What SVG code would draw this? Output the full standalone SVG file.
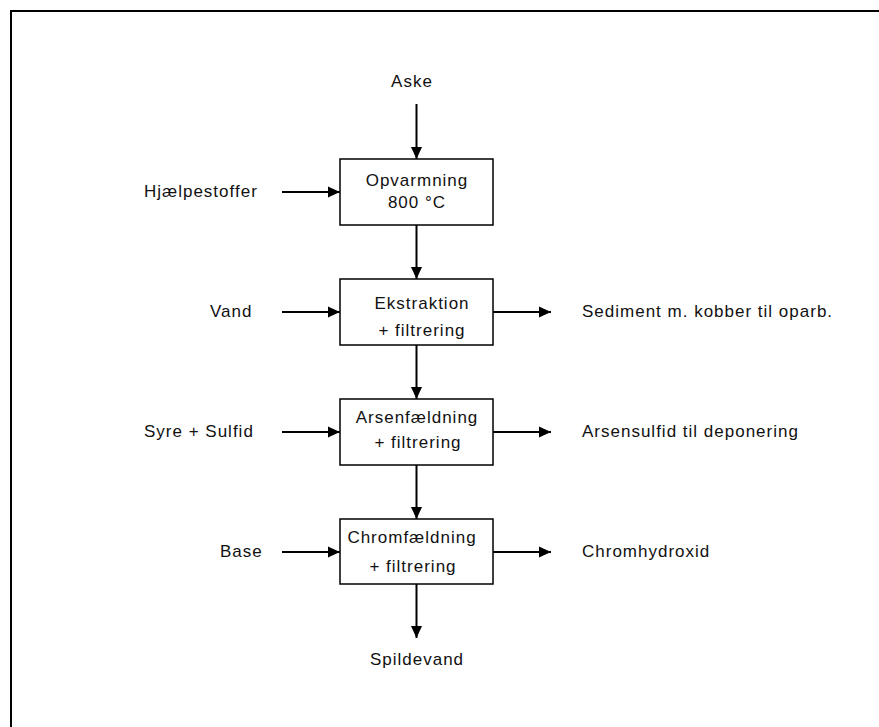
<svg xmlns="http://www.w3.org/2000/svg" width="879" height="727" viewBox="0 0 879 727">
<defs>
<marker id="ah" markerWidth="12" markerHeight="12" refX="12" refY="6" orient="auto" markerUnits="userSpaceOnUse">
<path d="M0,0.5 L12,6 L0,11.5 Z" fill="#000"/>
</marker>
<style>
text{font-family:"Liberation Sans",Arial,sans-serif;font-size:17px;letter-spacing:1px;fill:#111}
.c{text-anchor:middle}
.box{fill:#fff;stroke:#000;stroke-width:1.5}
.ln{stroke:#000;stroke-width:2;fill:none;marker-end:url(#ah)}
</style>
</defs>
<rect x="0" y="0" width="879" height="727" fill="#fff"/>
<path d="M11,727 V11 H879" fill="none" stroke="#000" stroke-width="2"/>
<g id="connectors">
<line class="ln" x1="416.5" y1="104" x2="416.5" y2="159"/>
<line class="ln" x1="416.5" y1="225" x2="416.5" y2="279"/>
<line class="ln" x1="416.5" y1="345" x2="416.5" y2="399"/>
<line class="ln" x1="416.5" y1="465" x2="416.5" y2="519"/>
<line class="ln" x1="416.5" y1="584" x2="416.5" y2="638"/>
<line class="ln" x1="282" y1="192" x2="340" y2="192"/>
<line class="ln" x1="282" y1="312" x2="340" y2="312"/>
<line class="ln" x1="282" y1="432" x2="340" y2="432"/>
<line class="ln" x1="282" y1="552" x2="340" y2="552"/>
<line class="ln" x1="493" y1="312" x2="551" y2="312"/>
<line class="ln" x1="493" y1="432" x2="551" y2="432"/>
<line class="ln" x1="493" y1="552" x2="551" y2="552"/>
</g>
<g id="n-opvarmning">
<rect class="box" x="340" y="159" width="153" height="66"/>
<text class="c" x="417" y="186">Opvarmning</text>
<text class="c" x="417" y="208">800 °C</text>
</g>
<g id="n-ekstraktion">
<rect class="box" x="340" y="279" width="153" height="66"/>
<text class="c" x="422" y="309">Ekstraktion</text>
<text class="c" x="422" y="336">+ filtrering</text>
</g>
<g id="n-arsen">
<rect class="box" x="340" y="399" width="153" height="66"/>
<text class="c" x="417" y="423">Arsenfældning</text>
<text class="c" x="418" y="448">+ filtrering</text>
</g>
<g id="n-chrom">
<rect class="box" x="340" y="519" width="153" height="65"/>
<text class="c" x="412" y="543">Chromfældning</text>
<text class="c" x="413" y="572">+ filtrering</text>
</g>
<g id="n-aske"><text class="c" x="412" y="87">Aske</text></g>
<g id="n-spildevand"><text class="c" x="417" y="665">Spildevand</text></g>
<g id="n-hjaelp"><text x="144" y="197">Hjælpestoffer</text></g>
<g id="n-vand"><text x="210" y="317">Vand</text></g>
<g id="n-syre"><text x="144" y="437">Syre + Sulfid</text></g>
<g id="n-base"><text x="220" y="557">Base</text></g>
<g id="n-sediment"><text x="582" y="317">Sediment m. kobber til oparb.</text></g>
<g id="n-arsensulfid"><text x="582" y="437">Arsensulfid til deponering</text></g>
<g id="n-chromhydroxid"><text x="582" y="557">Chromhydroxid</text></g>
</svg>
